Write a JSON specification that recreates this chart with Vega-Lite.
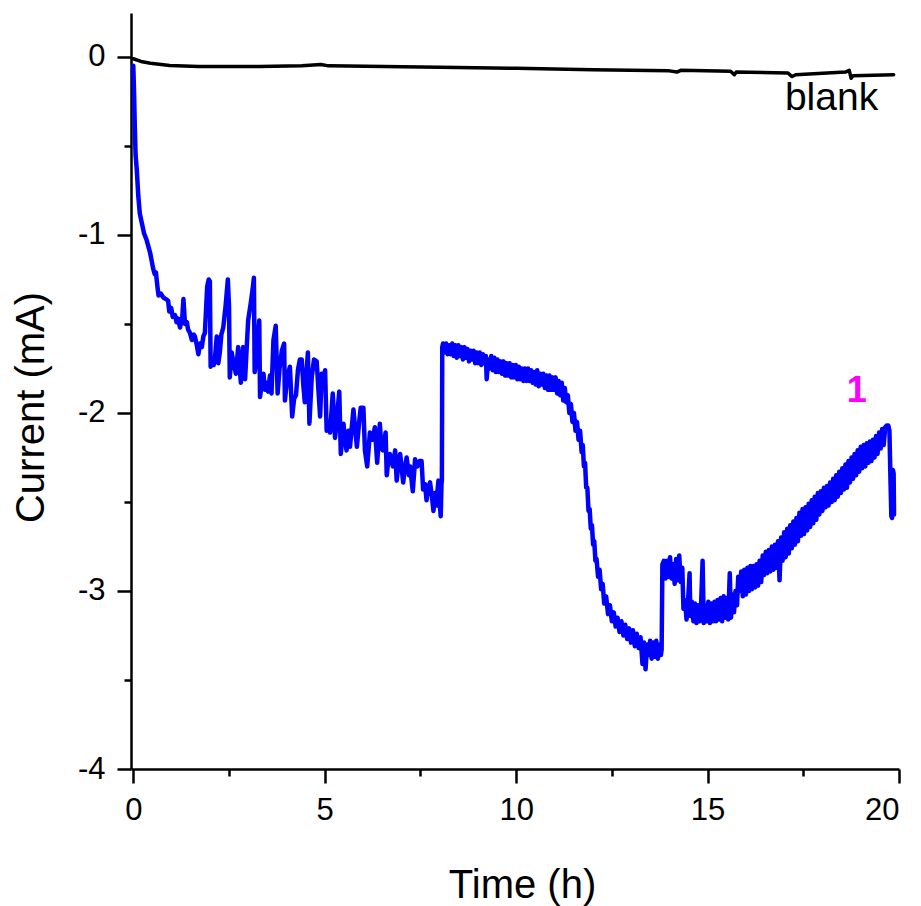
{
  "$schema": "https://vega.github.io/schema/vega-lite/v6.json",
  "width": 768,
  "height": 756,
  "autosize": {"type": "none"},
  "padding": {"left": 131, "top": 13, "right": 22, "bottom": 137},
  "background": "white",
  "config": {"view": {"stroke": null}, "font": "Liberation Sans"},
  "datasets": {
    "blue": [
      {"t":0.00,"I":-0.05},{"t":0.02,"I":-0.20},{"t":0.04,"I":-0.40},{"t":0.06,"I":-0.55},{"t":0.09,"I":-0.63},{"t":0.13,"I":-0.78},{"t":0.17,"I":-0.88},{"t":0.22,"I":-0.93},{"t":0.28,"I":-0.99},{"t":0.35,"I":-1.03},{"t":0.44,"I":-1.10},{"t":0.52,"I":-1.19},{"t":0.56,"I":-1.22},{"t":0.59,"I":-1.21},{"t":0.63,"I":-1.29},{"t":0.66,"I":-1.34},{"t":0.72,"I":-1.33},{"t":0.78,"I":-1.35},{"t":0.85,"I":-1.36},{"t":0.91,"I":-1.37},{"t":0.94,"I":-1.43},{"t":0.99,"I":-1.41},{"t":1.03,"I":-1.46},{"t":1.09,"I":-1.45},{"t":1.13,"I":-1.49},{"t":1.17,"I":-1.47},{"t":1.22,"I":-1.52},{"t":1.28,"I":-1.46},{"t":1.31,"I":-1.36},{"t":1.35,"I":-1.50},{"t":1.40,"I":-1.49},{"t":1.43,"I":-1.53},{"t":1.48,"I":-1.55},{"t":1.53,"I":-1.59},{"t":1.58,"I":-1.56},{"t":1.61,"I":-1.57},{"t":1.66,"I":-1.62},{"t":1.70,"I":-1.67},{"t":1.74,"I":-1.61},{"t":1.79,"I":-1.63},{"t":1.83,"I":-1.57},{"t":1.87,"I":-1.55},{"t":1.90,"I":-1.42},{"t":1.93,"I":-1.29},{"t":1.97,"I":-1.25},{"t":2.00,"I":-1.26},{"t":2.02,"I":-1.74},{"t":2.06,"I":-1.72},{"t":2.10,"I":-1.73},{"t":2.13,"I":-1.70},{"t":2.18,"I":-1.57},{"t":2.22,"I":-1.72},{"t":2.26,"I":-1.66},{"t":2.30,"I":-1.56},{"t":2.35,"I":-1.52},{"t":2.41,"I":-1.40},{"t":2.47,"I":-1.25},{"t":2.50,"I":-1.40},{"t":2.52,"I":-1.80},{"t":2.57,"I":-1.66},{"t":2.62,"I":-1.72},{"t":2.68,"I":-1.78},{"t":2.74,"I":-1.63},{"t":2.81,"I":-1.83},{"t":2.87,"I":-1.63},{"t":2.92,"I":-1.81},{"t":2.97,"I":-1.60},{"t":3.00,"I":-1.48},{"t":3.07,"I":-1.38},{"t":3.12,"I":-1.30},{"t":3.15,"I":-1.24},{"t":3.17,"I":-1.77},{"t":3.22,"I":-1.70},{"t":3.27,"I":-1.53},{"t":3.29,"I":-1.48},{"t":3.31,"I":-1.91},{"t":3.36,"I":-1.83},{"t":3.40,"I":-1.78},{"t":3.44,"I":-1.87},{"t":3.47,"I":-1.83},{"t":3.52,"I":-1.88},{"t":3.57,"I":-1.79},{"t":3.61,"I":-1.89},{"t":3.66,"I":-1.59},{"t":3.72,"I":-1.51},{"t":3.77,"I":-1.89},{"t":3.82,"I":-1.75},{"t":3.88,"I":-1.65},{"t":3.94,"I":-1.61},{"t":3.96,"I":-1.93},{"t":4.02,"I":-1.80},{"t":4.09,"I":-1.74},{"t":4.15,"I":-2.02},{"t":4.20,"I":-1.92},{"t":4.25,"I":-1.90},{"t":4.30,"I":-1.76},{"t":4.35,"I":-1.70},{"t":4.40,"I":-1.70},{"t":4.44,"I":-1.84},{"t":4.48,"I":-1.94},{"t":4.53,"I":-1.76},{"t":4.56,"I":-1.66},{"t":4.60,"I":-2.06},{"t":4.66,"I":-1.80},{"t":4.72,"I":-1.70},{"t":4.79,"I":-1.71},{"t":4.83,"I":-1.85},{"t":4.88,"I":-2.02},{"t":4.92,"I":-1.78},{"t":4.97,"I":-1.80},{"t":5.01,"I":-1.76},{"t":5.05,"I":-2.10},{"t":5.10,"I":-2.05},{"t":5.14,"I":-2.11},{"t":5.21,"I":-1.89},{"t":5.27,"I":-2.14},{"t":5.33,"I":-2.00},{"t":5.38,"I":-1.88},{"t":5.42,"I":-2.23},{"t":5.49,"I":-2.06},{"t":5.53,"I":-2.15},{"t":5.57,"I":-2.21},{"t":5.62,"I":-2.10},{"t":5.66,"I":-2.19},{"t":5.75,"I":-1.98},{"t":5.80,"I":-2.10},{"t":5.84,"I":-2.19},{"t":5.90,"I":-2.05},{"t":5.94,"I":-1.97},{"t":6.01,"I":-1.97},{"t":6.05,"I":-2.21},{"t":6.11,"I":-2.30},{"t":6.18,"I":-2.11},{"t":6.25,"I":-2.15},{"t":6.31,"I":-2.08},{"t":6.37,"I":-2.28},{"t":6.44,"I":-2.06},{"t":6.48,"I":-2.20},{"t":6.52,"I":-2.21},{"t":6.59,"I":-2.11},{"t":6.62,"I":-2.35},{"t":6.66,"I":-2.27},{"t":6.70,"I":-2.23},{"t":6.78,"I":-2.30},{"t":6.84,"I":-2.21},{"t":6.88,"I":-2.38},{"t":6.93,"I":-2.27},{"t":6.97,"I":-2.23},{"t":7.05,"I":-2.39},{"t":7.10,"I":-2.30},{"t":7.14,"I":-2.25},{"t":7.20,"I":-2.35},{"t":7.23,"I":-2.30},{"t":7.30,"I":-2.44},{"t":7.36,"I":-2.26},{"t":7.42,"I":-2.30},{"t":7.48,"I":-2.27},{"t":7.53,"I":-2.27},{"t":7.57,"I":-2.43},{"t":7.62,"I":-2.40},{"t":7.66,"I":-2.49},{"t":7.70,"I":-2.42},{"t":7.75,"I":-2.39},{"t":7.80,"I":-2.47},{"t":7.84,"I":-2.55},{"t":7.88,"I":-2.45},{"t":7.91,"I":-2.52},{"t":7.97,"I":-2.38},{"t":8.00,"I":-2.50},{"t":8.03,"I":-2.58},{"t":8.05,"I":-2.40},{"t":8.06,"I":-2.38},{"t":8.07,"I":-1.63},{"t":8.09,"I":-1.61},
      {"t":8.13,"I":-1.66},{"t":8.17,"I":-1.61},{"t":8.21,"I":-1.67},{"t":8.25,"I":-1.62},{"t":8.29,"I":-1.67},{"t":8.33,"I":-1.61},{"t":8.37,"I":-1.68},{"t":8.41,"I":-1.62},{"t":8.45,"I":-1.69},{"t":8.49,"I":-1.62},{"t":8.53,"I":-1.68},{"t":8.57,"I":-1.63},{"t":8.61,"I":-1.70},{"t":8.65,"I":-1.63},{"t":8.69,"I":-1.69},{"t":8.73,"I":-1.64},{"t":8.77,"I":-1.71},{"t":8.81,"I":-1.65},{"t":8.85,"I":-1.70},{"t":8.89,"I":-1.65},{"t":8.93,"I":-1.72},{"t":8.97,"I":-1.66},{"t":9.01,"I":-1.72},{"t":9.05,"I":-1.66},{"t":9.09,"I":-1.73},{"t":9.13,"I":-1.67},{"t":9.17,"I":-1.72},{"t":9.21,"I":-1.68},{"t":9.23,"I":-1.81},{"t":9.27,"I":-1.70},{"t":9.31,"I":-1.75},{"t":9.35,"I":-1.68},{"t":9.39,"I":-1.76},{"t":9.43,"I":-1.69},{"t":9.47,"I":-1.77},{"t":9.51,"I":-1.70},{"t":9.55,"I":-1.77},{"t":9.59,"I":-1.71},{"t":9.63,"I":-1.78},{"t":9.67,"I":-1.71},{"t":9.71,"I":-1.79},{"t":9.75,"I":-1.72},{"t":9.79,"I":-1.79},{"t":9.83,"I":-1.72},{"t":9.87,"I":-1.80},{"t":9.91,"I":-1.73},{"t":9.95,"I":-1.80},{"t":9.99,"I":-1.73},{"t":10.03,"I":-1.81},{"t":10.07,"I":-1.74},{"t":10.11,"I":-1.81},{"t":10.15,"I":-1.75},{"t":10.19,"I":-1.82},{"t":10.23,"I":-1.75},{"t":10.27,"I":-1.82},{"t":10.31,"I":-1.75},{"t":10.35,"I":-1.82},{"t":10.39,"I":-1.76},{"t":10.43,"I":-1.83},{"t":10.47,"I":-1.77},{"t":10.51,"I":-1.84},{"t":10.55,"I":-1.76},{"t":10.59,"I":-1.85},{"t":10.63,"I":-1.78},{"t":10.67,"I":-1.84},{"t":10.71,"I":-1.78},{"t":10.75,"I":-1.86},{"t":10.79,"I":-1.79},{"t":10.83,"I":-1.87},{"t":10.87,"I":-1.79},{"t":10.91,"I":-1.87},{"t":10.95,"I":-1.80},{"t":10.99,"I":-1.87},{"t":11.03,"I":-1.80},{"t":11.07,"I":-1.89},{"t":11.11,"I":-1.82},{"t":11.15,"I":-1.90},{"t":11.19,"I":-1.83},{"t":11.23,"I":-1.93},{"t":11.27,"I":-1.86},{"t":11.31,"I":-1.94},{"t":11.35,"I":-1.90},{"t":11.39,"I":-2.00},{"t":11.43,"I":-1.95},{"t":11.47,"I":-2.05},{"t":11.51,"I":-2.00},{"t":11.55,"I":-2.10},{"t":11.59,"I":-2.05},{"t":11.63,"I":-2.15},{"t":11.67,"I":-2.10},{"t":11.71,"I":-2.22},{"t":11.74,"I":-2.18},{"t":11.77,"I":-2.30},{"t":11.80,"I":-2.28},{"t":11.83,"I":-2.42},{"t":11.86,"I":-2.42},{"t":11.89,"I":-2.55},{"t":11.92,"I":-2.54},{"t":11.95,"I":-2.65},{"t":11.98,"I":-2.63},{"t":12.01,"I":-2.74},{"t":12.04,"I":-2.72},{"t":12.07,"I":-2.83},{"t":12.10,"I":-2.82},{"t":12.14,"I":-2.92},{"t":12.18,"I":-2.88},{"t":12.22,"I":-2.99},{"t":12.26,"I":-2.96},{"t":12.30,"I":-3.07},{"t":12.35,"I":-3.03},{"t":12.40,"I":-3.13},{"t":12.45,"I":-3.08},{"t":12.50,"I":-3.17},{"t":12.55,"I":-3.12},{"t":12.60,"I":-3.20},{"t":12.65,"I":-3.15},{"t":12.70,"I":-3.23},{"t":12.75,"I":-3.17},{"t":12.80,"I":-3.25},{"t":12.85,"I":-3.19},{"t":12.90,"I":-3.27},{"t":12.95,"I":-3.21},{"t":13.00,"I":-3.29},{"t":13.05,"I":-3.22},{"t":13.10,"I":-3.31},{"t":13.15,"I":-3.24},{"t":13.20,"I":-3.32},{"t":13.25,"I":-3.26},{"t":13.30,"I":-3.41},{"t":13.34,"I":-3.29},{"t":13.38,"I":-3.44},{"t":13.42,"I":-3.30},{"t":13.46,"I":-3.36},{"t":13.50,"I":-3.28},{"t":13.54,"I":-3.38},{"t":13.58,"I":-3.29},{"t":13.62,"I":-3.37},{"t":13.66,"I":-3.28},{"t":13.70,"I":-3.38},{"t":13.74,"I":-3.30},{"t":13.78,"I":-3.36},{"t":13.80,"I":-3.33},
      {"t":13.82,"I":-2.85},{"t":13.86,"I":-2.83},{"t":13.90,"I":-2.93},{"t":13.94,"I":-2.83},{"t":13.98,"I":-2.92},{"t":14.02,"I":-2.81},{"t":14.06,"I":-2.93},{"t":14.10,"I":-2.85},{"t":14.14,"I":-2.96},{"t":14.18,"I":-2.82},{"t":14.22,"I":-2.94},{"t":14.26,"I":-2.80},{"t":14.30,"I":-2.95},{"t":14.34,"I":-2.87},{"t":14.37,"I":-3.10},{"t":14.41,"I":-3.05},{"t":14.45,"I":-3.16},{"t":14.49,"I":-3.06},{"t":14.53,"I":-2.90},{"t":14.55,"I":-3.14},{"t":14.59,"I":-3.06},{"t":14.63,"I":-3.17},{"t":14.67,"I":-3.07},{"t":14.71,"I":-3.18},{"t":14.75,"I":-3.08},{"t":14.79,"I":-3.17},{"t":14.83,"I":-3.08},{"t":14.87,"I":-2.83},{"t":14.90,"I":-3.18},{"t":14.94,"I":-3.08},{"t":14.98,"I":-3.17},{"t":15.02,"I":-3.06},{"t":15.06,"I":-3.18},{"t":15.10,"I":-3.07},{"t":15.14,"I":-3.17},{"t":15.18,"I":-3.06},{"t":15.22,"I":-3.17},{"t":15.26,"I":-3.05},{"t":15.30,"I":-3.16},{"t":15.34,"I":-3.04},{"t":15.38,"I":-3.17},{"t":15.42,"I":-3.03},{"t":15.46,"I":-3.15},{"t":15.50,"I":-3.04},{"t":15.54,"I":-3.16},{"t":15.58,"I":-2.90},{"t":15.61,"I":-3.15},{"t":15.65,"I":-3.02},{"t":15.69,"I":-3.12},{"t":15.73,"I":-3.00},{"t":15.77,"I":-3.08},{"t":15.80,"I":-2.92},{"t":15.84,"I":-3.00},
      {"t":15.88,"I":-2.89},{"t":15.92,"I":-3.03},{"t":15.96,"I":-2.88},{"t":16.00,"I":-3.02},{"t":16.04,"I":-2.87},{"t":16.08,"I":-3.00},{"t":16.12,"I":-2.86},{"t":16.16,"I":-2.99},{"t":16.20,"I":-2.86},{"t":16.24,"I":-2.98},{"t":16.28,"I":-2.85},{"t":16.32,"I":-2.97},{"t":16.36,"I":-2.83},{"t":16.40,"I":-2.95},{"t":16.44,"I":-2.80},{"t":16.48,"I":-2.91},{"t":16.52,"I":-2.78},{"t":16.56,"I":-2.90},{"t":16.60,"I":-2.77},{"t":16.64,"I":-2.89},{"t":16.68,"I":-2.75},{"t":16.72,"I":-2.88},{"t":16.76,"I":-2.74},{"t":16.80,"I":-2.87},{"t":16.84,"I":-2.72},{"t":16.88,"I":-2.94},{"t":16.92,"I":-2.70},{"t":16.96,"I":-2.83},{"t":17.00,"I":-2.67},{"t":17.04,"I":-2.81},{"t":17.08,"I":-2.65},{"t":17.12,"I":-2.79},{"t":17.16,"I":-2.63},{"t":17.20,"I":-2.76},{"t":17.24,"I":-2.61},{"t":17.28,"I":-2.74},{"t":17.32,"I":-2.59},{"t":17.36,"I":-2.72},{"t":17.40,"I":-2.56},{"t":17.44,"I":-2.69},{"t":17.48,"I":-2.54},{"t":17.52,"I":-2.68},{"t":17.56,"I":-2.53},{"t":17.60,"I":-2.66},{"t":17.64,"I":-2.51},{"t":17.68,"I":-2.64},{"t":17.72,"I":-2.49},{"t":17.76,"I":-2.62},{"t":17.80,"I":-2.47},{"t":17.84,"I":-2.60},{"t":17.88,"I":-2.45},{"t":17.92,"I":-2.57},{"t":17.96,"I":-2.44},{"t":18.00,"I":-2.55},{"t":18.04,"I":-2.42},{"t":18.08,"I":-2.53},{"t":18.12,"I":-2.41},{"t":18.16,"I":-2.52},{"t":18.20,"I":-2.39},{"t":18.24,"I":-2.50},{"t":18.28,"I":-2.37},{"t":18.32,"I":-2.49},{"t":18.36,"I":-2.35},{"t":18.40,"I":-2.47},{"t":18.44,"I":-2.33},{"t":18.48,"I":-2.45},{"t":18.52,"I":-2.31},{"t":18.56,"I":-2.43},{"t":18.60,"I":-2.29},{"t":18.64,"I":-2.42},{"t":18.68,"I":-2.27},{"t":18.72,"I":-2.39},{"t":18.76,"I":-2.25},{"t":18.80,"I":-2.37},{"t":18.84,"I":-2.23},{"t":18.88,"I":-2.35},{"t":18.92,"I":-2.21},{"t":18.96,"I":-2.33},{"t":19.00,"I":-2.19},{"t":19.04,"I":-2.31},{"t":19.08,"I":-2.18},{"t":19.12,"I":-2.30},{"t":19.16,"I":-2.17},{"t":19.20,"I":-2.28},{"t":19.24,"I":-2.16},{"t":19.28,"I":-2.27},{"t":19.32,"I":-2.15},{"t":19.36,"I":-2.25},{"t":19.40,"I":-2.13},{"t":19.44,"I":-2.23},{"t":19.48,"I":-2.11},{"t":19.52,"I":-2.20},{"t":19.56,"I":-2.09},{"t":19.60,"I":-2.18},{"t":19.64,"I":-2.08},{"t":19.68,"I":-2.07},{"t":19.72,"I":-2.07},{"t":19.75,"I":-2.10},{"t":19.78,"I":-2.40},{"t":19.80,"I":-2.58},{"t":19.82,"I":-2.59},{"t":19.84,"I":-2.32},{"t":19.86,"I":-2.34},{"t":19.87,"I":-2.57}
    ],
    "blank": [
      {"t":0.00,"I":-0.01},{"t":0.2,"I":-0.025},{"t":0.45,"I":-0.035},{"t":0.95,"I":-0.048},{"t":1.7,"I":-0.053},{"t":3.3,"I":-0.054},{"t":4.4,"I":-0.05},{"t":4.9,"I":-0.042},{"t":5.1,"I":-0.05},{"t":8.0,"I":-0.058},{"t":10.0,"I":-0.064},{"t":12.0,"I":-0.072},{"t":14.0,"I":-0.078},{"t":14.2,"I":-0.085},{"t":14.3,"I":-0.075},{"t":15.6,"I":-0.08},{"t":15.7,"I":-0.10},{"t":15.75,"I":-0.085},{"t":17.1,"I":-0.09},{"t":17.2,"I":-0.11},{"t":17.3,"I":-0.10},{"t":18.6,"I":-0.085},{"t":18.7,"I":-0.075},{"t":18.75,"I":-0.12},{"t":18.8,"I":-0.105},{"t":19.86,"I":-0.10}
    ]
  },
  "layer": [
    {
      "data": {"name": "blue"},
      "mark": {"type": "line", "stroke": "#0000ff", "strokeWidth": 4.5, "strokeJoin": "round", "strokeCap": "round"},
      "encoding": {
        "x": {"field": "t", "type": "quantitative",
          "scale": {"domain": [-0.06, 20], "nice": false, "zero": false},
          "axis": {"orient": "bottom", "values": [0, 5, 10, 15, 20], "grid": false,
            "domainColor": "black", "domainWidth": 2.5, "tickColor": "black", "tickWidth": 2.5, "tickSize": 14,
            "labelFont": "Liberation Sans", "labelFontSize": 31, "labelColor": "black", "labelPadding": 12,
            "labelExpr": "datum.value + ''",
            "title": "Time (h)", "titleFont": "Liberation Sans", "titleFontSize": 40, "titleFontWeight": "normal",
            "titleColor": "black", "titleBaseline": "alphabetic", "titleX": 391, "titleY": 128, "titleAnchor": null}},
        "y": {"field": "I", "type": "quantitative",
          "scale": {"domain": [-4, 0.247], "nice": false, "zero": false},
          "axis": {"orient": "left", "values": [-4, -3, -2, -1, 0], "grid": false,
            "domainColor": "black", "domainWidth": 2.5, "tickColor": "black", "tickWidth": 2.5, "tickSize": 14,
            "labelFont": "Liberation Sans", "labelFontSize": 31, "labelColor": "black", "labelPadding": 12,
            "labelExpr": "datum.value + ''",
            "title": "Current (mA)", "titleFont": "Liberation Sans", "titleFontSize": 40, "titleFontWeight": "normal",
            "titleColor": "black", "titleBaseline": "alphabetic", "titleAngle": -90, "titleX": -88, "titleY": 394, "titleAnchor": null}}
      }
    },
    {
      "data": {"name": "blank"},
      "mark": {"type": "line", "stroke": "#000000", "strokeWidth": 3.5, "strokeJoin": "round", "strokeCap": "round"},
      "encoding": {
        "x": {"field": "t", "type": "quantitative",
          "axis": {"orient": "bottom", "values": [2.5, 7.5, 12.5, 17.5], "grid": false, "domain": false,
            "labels": false, "tickColor": "black", "tickWidth": 2.5, "tickSize": 7, "title": null}},
        "y": {"field": "I", "type": "quantitative",
          "axis": {"orient": "left", "values": [-3.5, -2.5, -1.5, -0.5], "grid": false, "domain": false,
            "labels": false, "tickColor": "black", "tickWidth": 2.5, "tickSize": 7, "title": null}}
      }
    },
    {
      "data": {"values": [{"t": 17.02, "I": -0.30, "txt": "blank"}]},
      "mark": {"type": "text", "align": "left", "baseline": "alphabetic", "font": "Liberation Sans", "fontSize": 39, "color": "black"},
      "encoding": {
        "x": {"field": "t", "type": "quantitative", "axis": null},
        "y": {"field": "I", "type": "quantitative", "axis": null},
        "text": {"field": "txt"}
      }
    },
    {
      "data": {"values": [{"t": 18.9, "I": -1.94, "txt": "1"}]},
      "mark": {"type": "text", "align": "center", "baseline": "alphabetic", "font": "Liberation Sans", "fontSize": 36, "fontWeight": "bold", "color": "#ff00ff"},
      "encoding": {
        "x": {"field": "t", "type": "quantitative", "axis": null},
        "y": {"field": "I", "type": "quantitative", "axis": null},
        "text": {"field": "txt"}
      }
    }
  ],
  "resolve": {"axis": {"x": "independent", "y": "independent"}}
}
